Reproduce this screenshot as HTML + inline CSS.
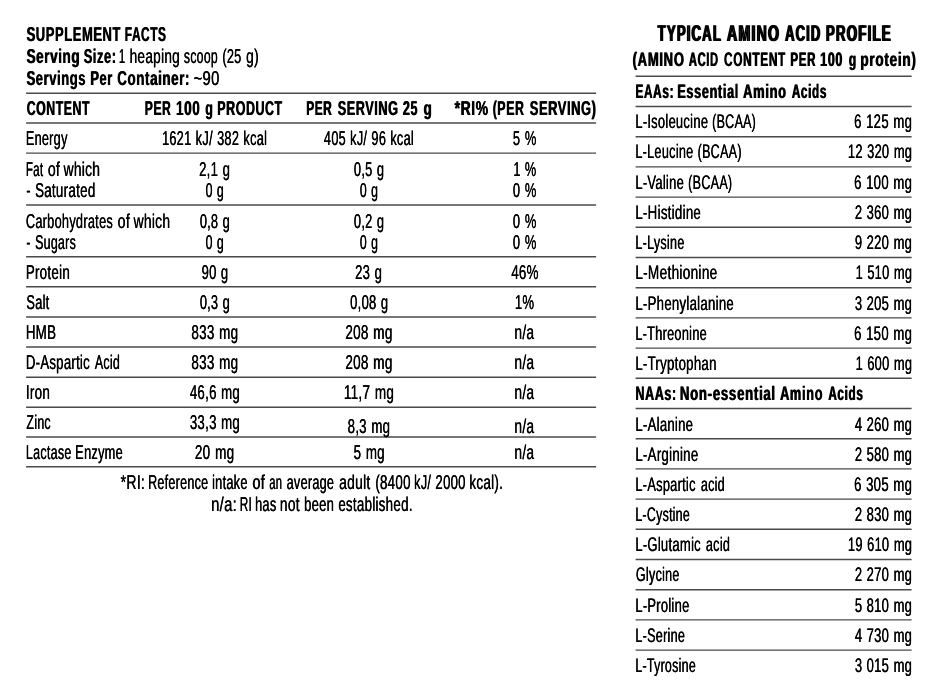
<!DOCTYPE html>
<html lang="en"><head><meta charset="utf-8"><title>Supplement Facts</title>
<style>
html,body{margin:0;padding:0;background:#fff}
body{width:944px;height:680px;position:relative;overflow:hidden;text-rendering:geometricPrecision;font-family:"Liberation Sans",Arial,Helvetica,sans-serif;color:#000}
svg.rules{position:absolute;left:0;top:0}
.t{position:absolute;left:0;white-space:pre;line-height:1;transform-origin:0 0;display:block;font-size:20.1px;letter-spacing:0.4px;text-shadow:0.4px 0 0 #000;-webkit-text-stroke:0.1px #000}
.b{font-weight:bold;letter-spacing:0.9px;text-shadow:0.9px 0 0 #000;-webkit-text-stroke:0.0px #000}
</style></head><body>
<svg class="rules" width="944" height="680" viewBox="0 0 944 680">
<line x1="26.1" y1="93.20" x2="596.1" y2="93.20" stroke="#4a4a4a" stroke-width="1.4"/>
<line x1="26.1" y1="123.00" x2="596.1" y2="123.00" stroke="#4a4a4a" stroke-width="1.4"/>
<line x1="26.1" y1="153.10" x2="596.1" y2="153.10" stroke="#4a4a4a" stroke-width="1.4"/>
<line x1="26.1" y1="205.00" x2="596.1" y2="205.00" stroke="#4a4a4a" stroke-width="1.4"/>
<line x1="26.1" y1="256.80" x2="596.1" y2="256.80" stroke="#4a4a4a" stroke-width="1.4"/>
<line x1="26.1" y1="286.80" x2="596.1" y2="286.80" stroke="#4a4a4a" stroke-width="1.4"/>
<line x1="26.1" y1="317.00" x2="596.1" y2="317.00" stroke="#4a4a4a" stroke-width="1.4"/>
<line x1="26.1" y1="347.00" x2="596.1" y2="347.00" stroke="#4a4a4a" stroke-width="1.4"/>
<line x1="26.1" y1="377.20" x2="596.1" y2="377.20" stroke="#4a4a4a" stroke-width="1.4"/>
<line x1="26.1" y1="407.20" x2="596.1" y2="407.20" stroke="#4a4a4a" stroke-width="1.4"/>
<line x1="26.1" y1="437.00" x2="596.1" y2="437.00" stroke="#4a4a4a" stroke-width="1.4"/>
<line x1="26.1" y1="466.80" x2="596.1" y2="466.80" stroke="#4a4a4a" stroke-width="1.4"/>
<line x1="635.6" y1="76.30" x2="911.6" y2="76.30" stroke="#4a4a4a" stroke-width="1.4"/>
<line x1="635.6" y1="106.50" x2="911.6" y2="106.50" stroke="#4a4a4a" stroke-width="1.4"/>
<line x1="635.6" y1="136.70" x2="911.6" y2="136.70" stroke="#4a4a4a" stroke-width="1.4"/>
<line x1="635.6" y1="166.90" x2="911.6" y2="166.90" stroke="#4a4a4a" stroke-width="1.4"/>
<line x1="635.6" y1="197.10" x2="911.6" y2="197.10" stroke="#4a4a4a" stroke-width="1.4"/>
<line x1="635.6" y1="227.30" x2="911.6" y2="227.30" stroke="#4a4a4a" stroke-width="1.4"/>
<line x1="635.6" y1="257.50" x2="911.6" y2="257.50" stroke="#4a4a4a" stroke-width="1.4"/>
<line x1="635.6" y1="287.70" x2="911.6" y2="287.70" stroke="#4a4a4a" stroke-width="1.4"/>
<line x1="635.6" y1="317.90" x2="911.6" y2="317.90" stroke="#4a4a4a" stroke-width="1.4"/>
<line x1="635.6" y1="348.10" x2="911.6" y2="348.10" stroke="#4a4a4a" stroke-width="1.4"/>
<line x1="635.6" y1="378.30" x2="911.6" y2="378.30" stroke="#4a4a4a" stroke-width="1.4"/>
<line x1="635.6" y1="408.50" x2="911.6" y2="408.50" stroke="#4a4a4a" stroke-width="1.4"/>
<line x1="635.6" y1="438.70" x2="911.6" y2="438.70" stroke="#4a4a4a" stroke-width="1.4"/>
<line x1="635.6" y1="468.90" x2="911.6" y2="468.90" stroke="#4a4a4a" stroke-width="1.4"/>
<line x1="635.6" y1="499.10" x2="911.6" y2="499.10" stroke="#4a4a4a" stroke-width="1.4"/>
<line x1="635.6" y1="529.30" x2="911.6" y2="529.30" stroke="#4a4a4a" stroke-width="1.4"/>
<line x1="635.6" y1="559.50" x2="911.6" y2="559.50" stroke="#4a4a4a" stroke-width="1.4"/>
<line x1="635.6" y1="589.70" x2="911.6" y2="589.70" stroke="#4a4a4a" stroke-width="1.4"/>
<line x1="635.6" y1="619.90" x2="911.6" y2="619.90" stroke="#4a4a4a" stroke-width="1.4"/>
<line x1="635.6" y1="650.10" x2="911.6" y2="650.10" stroke="#4a4a4a" stroke-width="1.4"/>
</svg>
<div class="ln"><span class="t b" style="top:25px;transform:translateX(26.30px) scaleX(0.6454)">SUPPLEMENT</span> <span class="t b" style="top:25px;transform:translateX(124.51px) scaleX(0.5931)">FACTS</span></div>
<div class="ln"><span class="t b" style="top:47px;transform:translateX(26.30px) scaleX(0.6694)">Serving</span> <span class="t b" style="top:47px;transform:translateX(83.40px) scaleX(0.6397)">Size:</span></div>
<div class="ln"><span class="t" style="top:47px;transform:translateX(118.68px) scaleX(0.5600)">1</span> <span class="t" style="top:47px;transform:translateX(129.45px) scaleX(0.6797)">heaping</span> <span class="t" style="top:47px;transform:translateX(183.83px) scaleX(0.6103)">scoop</span> <span class="t" style="top:47px;transform:translateX(222.19px) scaleX(0.6377)">(25</span> <span class="t" style="top:47px;transform:translateX(246.03px) scaleX(0.6860)">g)</span></div>
<div class="ln"><span class="t b" style="top:69px;transform:translateX(26.30px) scaleX(0.6452)">Servings</span> <span class="t b" style="top:69px;transform:translateX(90.06px) scaleX(0.6418)">Per</span> <span class="t b" style="top:69px;transform:translateX(117.00px) scaleX(0.6643)">Container:</span></div>
<div class="ln"><span class="t" style="top:69px;transform:translateX(193.44px) scaleX(0.7356)">~90</span></div>
<div class="ln"><span class="t b" style="top:99px;transform:translateX(26.40px) scaleX(0.6136)">CONTENT</span></div>
<div class="ln"><span class="t b" style="top:99px;transform:translateX(144.50px) scaleX(0.6045)">PER</span> <span class="t b" style="top:99px;transform:translateX(175.73px) scaleX(0.6733)">100</span> <span class="t b" style="top:99px;transform:translateX(205.00px) scaleX(0.6218)">g</span> <span class="t b" style="top:99px;transform:translateX(216.98px) scaleX(0.6197)">PRODUCT</span></div>
<div class="ln"><span class="t b" style="top:99px;transform:translateX(305.91px) scaleX(0.5930)">PER</span> <span class="t b" style="top:99px;transform:translateX(337.40px) scaleX(0.6319)">SERVING</span> <span class="t b" style="top:99px;transform:translateX(402.60px) scaleX(0.6256)">25</span> <span class="t b" style="top:99px;transform:translateX(423.30px) scaleX(0.6555)">g</span></div>
<div class="ln"><span class="t b" style="top:99px;transform:translateX(454.30px) scaleX(0.6907)">*RI%</span> <span class="t b" style="top:99px;transform:translateX(492.38px) scaleX(0.6165)">(PER</span> <span class="t b" style="top:99px;transform:translateX(529.50px) scaleX(0.6420)">SERVING)</span></div>
<div class="ln"><span class="t" style="top:129px;transform:translateX(25.70px) scaleX(0.6327)">Energy</span></div>
<div class="ln"><span class="t" style="top:129px;word-spacing:0.80px;transform:translateX(161.90px) scaleX(0.6351)">1621 kJ/ 382 kcal</span></div>
<div class="ln"><span class="t" style="top:129px;word-spacing:0.80px;transform:translateX(323.83px) scaleX(0.6320)">405 kJ/ 96 kcal</span></div>
<div class="ln"><span class="t" style="top:129px;word-spacing:0.80px;transform:translateX(512.83px) scaleX(0.6429)">5 %</span></div>
<div class="ln"><span class="t" style="top:160px;transform:translateX(25.75px) scaleX(0.5748)">Fat</span> <span class="t" style="top:160px;transform:translateX(47.64px) scaleX(0.7026)">of</span> <span class="t" style="top:160px;transform:translateX(63.42px) scaleX(0.6867)">which</span></div>
<div class="ln"><span class="t" style="top:160px;word-spacing:0.80px;transform:translateX(198.98px) scaleX(0.6539)">2,1 g</span></div>
<div class="ln"><span class="t" style="top:160px;word-spacing:0.80px;transform:translateX(353.83px) scaleX(0.6398)">0,5 g</span></div>
<div class="ln"><span class="t" style="top:160px;word-spacing:0.80px;transform:translateX(513.20px) scaleX(0.6330)">1 %</span></div>
<div class="ln"><span class="t" style="top:181px;transform:translateX(26.33px) scaleX(0.6000)">-</span> <span class="t" style="top:181px;transform:translateX(34.93px) scaleX(0.6659)">Saturated</span></div>
<div class="ln"><span class="t" style="top:181px;word-spacing:0.80px;transform:translateX(205.43px) scaleX(0.6133)">0 g</span></div>
<div class="ln"><span class="t" style="top:181px;word-spacing:0.80px;transform:translateX(359.63px) scaleX(0.6133)">0 g</span></div>
<div class="ln"><span class="t" style="top:181px;word-spacing:0.80px;transform:translateX(512.83px) scaleX(0.6429)">0 %</span></div>
<div class="ln"><span class="t" style="top:212px;transform:translateX(25.70px) scaleX(0.6365)">Carbohydrates</span> <span class="t" style="top:212px;transform:translateX(117.54px) scaleX(0.7026)">of</span> <span class="t" style="top:212px;transform:translateX(133.42px) scaleX(0.6905)">which</span></div>
<div class="ln"><span class="t" style="top:212px;word-spacing:0.80px;transform:translateX(199.63px) scaleX(0.6398)">0,8 g</span></div>
<div class="ln"><span class="t" style="top:212px;word-spacing:0.80px;transform:translateX(353.83px) scaleX(0.6398)">0,2 g</span></div>
<div class="ln"><span class="t" style="top:212px;word-spacing:0.80px;transform:translateX(512.83px) scaleX(0.6429)">0 %</span></div>
<div class="ln"><span class="t" style="top:233px;transform:translateX(26.33px) scaleX(0.6000)">-</span> <span class="t" style="top:233px;transform:translateX(34.93px) scaleX(0.6201)">Sugars</span></div>
<div class="ln"><span class="t" style="top:233px;word-spacing:0.80px;transform:translateX(205.43px) scaleX(0.6133)">0 g</span></div>
<div class="ln"><span class="t" style="top:233px;word-spacing:0.80px;transform:translateX(359.63px) scaleX(0.6133)">0 g</span></div>
<div class="ln"><span class="t" style="top:233px;word-spacing:0.80px;transform:translateX(512.83px) scaleX(0.6429)">0 %</span></div>
<div class="ln"><span class="t" style="top:263px;transform:translateX(25.67px) scaleX(0.6662)">Protein</span></div>
<div class="ln"><span class="t" style="top:263px;word-spacing:0.80px;transform:translateX(201.43px) scaleX(0.6479)">90 g</span></div>
<div class="ln"><span class="t" style="top:263px;word-spacing:0.80px;transform:translateX(354.88px) scaleX(0.6517)">23 g</span></div>
<div class="ln"><span class="t" style="top:263px;transform:translateX(511.13px) scaleX(0.6627)">46%</span></div>
<div class="ln"><span class="t" style="top:293px;transform:translateX(26.33px) scaleX(0.6369)">Salt</span></div>
<div class="ln"><span class="t" style="top:293px;word-spacing:0.80px;transform:translateX(199.63px) scaleX(0.6398)">0,3 g</span></div>
<div class="ln"><span class="t" style="top:293px;word-spacing:0.80px;transform:translateX(350.03px) scaleX(0.6466)">0,08 g</span></div>
<div class="ln"><span class="t" style="top:293px;transform:translateX(514.68px) scaleX(0.6535)">1%</span></div>
<div class="ln"><span class="t" style="top:323px;transform:translateX(25.67px) scaleX(0.6644)">HMB</span></div>
<div class="ln"><span class="t" style="top:323px;word-spacing:0.80px;transform:translateX(191.23px) scaleX(0.6696)">833 mg</span></div>
<div class="ln"><span class="t" style="top:323px;word-spacing:0.80px;transform:translateX(345.16px) scaleX(0.6735)">208 mg</span></div>
<div class="ln"><span class="t" style="top:323px;transform:translateX(514.25px) scaleX(0.6883)">n/a</span></div>
<div class="ln"><span class="t" style="top:353px;transform:translateX(25.68px) scaleX(0.6568)">D-Aspartic</span> <span class="t" style="top:353px;transform:translateX(94.63px) scaleX(0.6210)">Acid</span></div>
<div class="ln"><span class="t" style="top:353px;word-spacing:0.80px;transform:translateX(191.23px) scaleX(0.6696)">833 mg</span></div>
<div class="ln"><span class="t" style="top:353px;word-spacing:0.80px;transform:translateX(345.16px) scaleX(0.6735)">208 mg</span></div>
<div class="ln"><span class="t" style="top:353px;transform:translateX(514.25px) scaleX(0.6883)">n/a</span></div>
<div class="ln"><span class="t" style="top:383px;transform:translateX(25.66px) scaleX(0.6706)">Iron</span></div>
<div class="ln"><span class="t" style="top:383px;word-spacing:0.80px;transform:translateX(189.73px) scaleX(0.6588)">46,6 mg</span></div>
<div class="ln"><span class="t" style="top:383px;word-spacing:0.80px;transform:translateX(343.76px) scaleX(0.6732)">11,7 mg</span></div>
<div class="ln"><span class="t" style="top:383px;transform:translateX(514.25px) scaleX(0.6883)">n/a</span></div>
<div class="ln"><span class="t" style="top:413px;transform:translateX(26.33px) scaleX(0.6185)">Zinc</span></div>
<div class="ln"><span class="t" style="top:413px;word-spacing:0.80px;transform:translateX(189.73px) scaleX(0.6588)">33,3 mg</span></div>
<div class="ln"><span class="t" style="top:417px;word-spacing:0.80px;transform:translateX(347.53px) scaleX(0.6592)">8,3 mg</span></div>
<div class="ln"><span class="t" style="top:417px;transform:translateX(514.25px) scaleX(0.6883)">n/a</span></div>
<div class="ln"><span class="t" style="top:443px;transform:translateX(25.71px) scaleX(0.6241)">Lactase</span> <span class="t" style="top:443px;transform:translateX(75.09px) scaleX(0.6373)">Enzyme</span></div>
<div class="ln"><span class="t" style="top:443px;word-spacing:0.80px;transform:translateX(194.76px) scaleX(0.6734)">20 mg</span></div>
<div class="ln"><span class="t" style="top:443px;word-spacing:0.80px;transform:translateX(353.43px) scaleX(0.6652)">5 mg</span></div>
<div class="ln"><span class="t" style="top:443px;transform:translateX(514.25px) scaleX(0.6883)">n/a</span></div>
<div class="ln"><span class="t" style="top:473px;transform:translateX(120.53px) scaleX(0.6962)">*RI:</span> <span class="t" style="top:473px;transform:translateX(148.00px) scaleX(0.6269)">Reference</span> <span class="t" style="top:473px;transform:translateX(211.89px) scaleX(0.6388)">intake</span> <span class="t" style="top:473px;transform:translateX(252.34px) scaleX(0.7137)">of</span> <span class="t" style="top:473px;transform:translateX(269.15px) scaleX(0.5600)">an</span> <span class="t" style="top:473px;transform:translateX(286.53px) scaleX(0.6305)">average</span> <span class="t" style="top:473px;transform:translateX(339.03px) scaleX(0.6900)">adult</span> <span class="t" style="top:473px;transform:translateX(375.17px) scaleX(0.6633)">(8400</span> <span class="t" style="top:473px;transform:translateX(414.10px) scaleX(0.6289)">kJ/</span> <span class="t" style="top:473px;transform:translateX(435.28px) scaleX(0.6567)">2000</span> <span class="t" style="top:473px;transform:translateX(469.16px) scaleX(0.6719)">kcal).</span></div>
<div class="ln"><span class="t" style="top:495px;transform:translateX(210.97px) scaleX(0.7400)">n/a:</span> <span class="t" style="top:495px;transform:translateX(239.64px) scaleX(0.5866)">RI</span> <span class="t" style="top:495px;transform:translateX(254.89px) scaleX(0.6371)">has</span> <span class="t" style="top:495px;transform:translateX(279.85px) scaleX(0.6806)">not</span> <span class="t" style="top:495px;transform:translateX(303.98px) scaleX(0.6512)">been</span> <span class="t" style="top:495px;transform:translateX(338.13px) scaleX(0.6648)">established.</span></div>
<div class="ln"><span class="t b" style="top:22px;font-size:22.8px;text-rendering:geometricPrecision;letter-spacing:2.0px;text-shadow:2.3px 0 0 #000;transform:translateX(657.00px) scaleX(0.5773)">TYPICAL</span> <span class="t b" style="top:22px;font-size:22.8px;text-rendering:geometricPrecision;letter-spacing:2.0px;text-shadow:2.3px 0 0 #000;transform:translateX(726.30px) scaleX(0.6195)">AMINO</span> <span class="t b" style="top:22px;font-size:22.8px;text-rendering:geometricPrecision;letter-spacing:2.0px;text-shadow:2.3px 0 0 #000;transform:translateX(784.40px) scaleX(0.5711)">ACID</span> <span class="t b" style="top:22px;font-size:22.8px;text-rendering:geometricPrecision;letter-spacing:2.0px;text-shadow:2.3px 0 0 #000;transform:translateX(825.22px) scaleX(0.5845)">PROFILE</span></div>
<div class="ln"><span class="t b" style="top:51px;font-size:19.6px;letter-spacing:1.1px;text-shadow:1.1px 0 0 #000;transform:translateX(632.20px) scaleX(0.6650)">(AMINO</span> <span class="t b" style="top:51px;font-size:19.6px;letter-spacing:1.1px;text-shadow:1.1px 0 0 #000;transform:translateX(688.60px) scaleX(0.5696)">ACID</span> <span class="t b" style="top:51px;font-size:19.6px;letter-spacing:1.1px;text-shadow:1.1px 0 0 #000;transform:translateX(723.70px) scaleX(0.6043)">CONTENT</span> <span class="t b" style="top:51px;font-size:19.6px;letter-spacing:1.1px;text-shadow:1.1px 0 0 #000;transform:translateX(790.11px) scaleX(0.5867)">PER</span> <span class="t b" style="top:51px;font-size:19.6px;letter-spacing:1.1px;text-shadow:1.1px 0 0 #000;transform:translateX(819.86px) scaleX(0.6354)">100</span> <span class="t b" style="top:51px;font-size:19.6px;letter-spacing:1.1px;text-shadow:1.1px 0 0 #000;transform:translateX(848.60px) scaleX(0.6116)">g</span> <span class="t b" style="top:51px;font-size:19.6px;letter-spacing:1.1px;text-shadow:1.1px 0 0 #000;transform:translateX(860.01px) scaleX(0.6871)">protein)</span></div>
<div class="ln"><span class="t b" style="top:83px;font-size:19.6px;letter-spacing:1.1px;text-shadow:1.1px 0 0 #000;transform:translateX(635.20px) scaleX(0.6007)">EAAs:</span> <span class="t b" style="top:83px;font-size:19.6px;letter-spacing:1.1px;text-shadow:1.1px 0 0 #000;transform:translateX(676.96px) scaleX(0.6424)">Essential</span> <span class="t b" style="top:83px;font-size:19.6px;letter-spacing:1.1px;text-shadow:1.1px 0 0 #000;transform:translateX(742.80px) scaleX(0.6558)">Amino</span> <span class="t b" style="top:83px;font-size:19.6px;letter-spacing:1.1px;text-shadow:1.1px 0 0 #000;transform:translateX(791.50px) scaleX(0.5970)">Acids</span></div>
<div class="ln"><span class="t" style="top:113px;font-size:19.6px;transform:translateX(635.17px) scaleX(0.6603)">L-Isoleucine</span> <span class="t" style="top:113px;font-size:19.6px;transform:translateX(712.09px) scaleX(0.6382)">(BCAA)</span></div>
<div class="ln"><span class="t" style="top:113px;font-size:19.6px;word-spacing:0.78px;transform:translateX(853.96px) scaleX(0.6721)">6 125 mg</span></div>
<div class="ln"><span class="t" style="top:143px;font-size:19.6px;transform:translateX(635.18px) scaleX(0.6493)">L-Leucine</span> <span class="t" style="top:143px;font-size:19.6px;transform:translateX(697.49px) scaleX(0.6411)">(BCAA)</span></div>
<div class="ln"><span class="t" style="top:143px;font-size:19.6px;word-spacing:0.78px;transform:translateX(847.78px) scaleX(0.6575)">12 320 mg</span></div>
<div class="ln"><span class="t" style="top:174px;font-size:19.6px;transform:translateX(635.17px) scaleX(0.6618)">L-Valine</span> <span class="t" style="top:174px;font-size:19.6px;transform:translateX(688.09px) scaleX(0.6411)">(BCAA)</span></div>
<div class="ln"><span class="t" style="top:174px;font-size:19.6px;word-spacing:0.78px;transform:translateX(853.96px) scaleX(0.6721)">6 100 mg</span></div>
<div class="ln"><span class="t" style="top:204px;font-size:19.6px;transform:translateX(635.15px) scaleX(0.6790)">L-Histidine</span></div>
<div class="ln"><span class="t" style="top:204px;font-size:19.6px;word-spacing:0.78px;transform:translateX(854.63px) scaleX(0.6642)">2 360 mg</span></div>
<div class="ln"><span class="t" style="top:234px;font-size:19.6px;transform:translateX(635.19px) scaleX(0.6430)">L-Lysine</span></div>
<div class="ln"><span class="t" style="top:234px;font-size:19.6px;word-spacing:0.78px;transform:translateX(854.63px) scaleX(0.6642)">9 220 mg</span></div>
<div class="ln"><span class="t" style="top:264px;font-size:19.6px;transform:translateX(635.14px) scaleX(0.6966)">L-Methionine</span></div>
<div class="ln"><span class="t" style="top:264px;font-size:19.6px;word-spacing:0.78px;transform:translateX(855.38px) scaleX(0.6555)">1 510 mg</span></div>
<div class="ln"><span class="t" style="top:295px;font-size:19.6px;transform:translateX(635.16px) scaleX(0.6739)">L-Phenylalanine</span></div>
<div class="ln"><span class="t" style="top:295px;font-size:19.6px;word-spacing:0.78px;transform:translateX(854.63px) scaleX(0.6642)">3 205 mg</span></div>
<div class="ln"><span class="t" style="top:325px;font-size:19.6px;transform:translateX(635.18px) scaleX(0.6517)">L-Threonine</span></div>
<div class="ln"><span class="t" style="top:325px;font-size:19.6px;word-spacing:0.78px;transform:translateX(853.96px) scaleX(0.6721)">6 150 mg</span></div>
<div class="ln"><span class="t" style="top:355px;font-size:19.6px;transform:translateX(635.16px) scaleX(0.6750)">L-Tryptophan</span></div>
<div class="ln"><span class="t" style="top:355px;font-size:19.6px;word-spacing:0.78px;transform:translateX(855.38px) scaleX(0.6555)">1 600 mg</span></div>
<div class="ln"><span class="t b" style="top:385px;font-size:19.6px;letter-spacing:1.1px;text-shadow:1.1px 0 0 #000;transform:translateX(635.17px) scaleX(0.6317)">NAAs:</span> <span class="t b" style="top:385px;font-size:19.6px;letter-spacing:1.1px;text-shadow:1.1px 0 0 #000;transform:translateX(679.53px) scaleX(0.6722)">Non-essential</span> <span class="t b" style="top:385px;font-size:19.6px;letter-spacing:1.1px;text-shadow:1.1px 0 0 #000;transform:translateX(779.70px) scaleX(0.6498)">Amino</span> <span class="t b" style="top:385px;font-size:19.6px;letter-spacing:1.1px;text-shadow:1.1px 0 0 #000;transform:translateX(828.00px) scaleX(0.5970)">Acids</span></div>
<div class="ln"><span class="t" style="top:416px;font-size:19.6px;transform:translateX(635.16px) scaleX(0.6718)">L-Alanine</span></div>
<div class="ln"><span class="t" style="top:416px;font-size:19.6px;word-spacing:0.78px;transform:translateX(854.63px) scaleX(0.6642)">4 260 mg</span></div>
<div class="ln"><span class="t" style="top:446px;font-size:19.6px;transform:translateX(635.16px) scaleX(0.6777)">L-Arginine</span></div>
<div class="ln"><span class="t" style="top:446px;font-size:19.6px;word-spacing:0.78px;transform:translateX(854.63px) scaleX(0.6642)">2 580 mg</span></div>
<div class="ln"><span class="t" style="top:476px;font-size:19.6px;transform:translateX(635.18px) scaleX(0.6557)">L-Aspartic</span> <span class="t" style="top:476px;font-size:19.6px;transform:translateX(700.63px) scaleX(0.6449)">acid</span></div>
<div class="ln"><span class="t" style="top:476px;font-size:19.6px;word-spacing:0.78px;transform:translateX(853.96px) scaleX(0.6721)">6 305 mg</span></div>
<div class="ln"><span class="t" style="top:506px;font-size:19.6px;transform:translateX(635.20px) scaleX(0.6335)">L-Cystine</span></div>
<div class="ln"><span class="t" style="top:506px;font-size:19.6px;word-spacing:0.78px;transform:translateX(854.63px) scaleX(0.6642)">2 830 mg</span></div>
<div class="ln"><span class="t" style="top:536px;font-size:19.6px;transform:translateX(635.17px) scaleX(0.6651)">L-Glutamic</span> <span class="t" style="top:536px;font-size:19.6px;transform:translateX(705.83px) scaleX(0.6449)">acid</span></div>
<div class="ln"><span class="t" style="top:536px;font-size:19.6px;word-spacing:0.78px;transform:translateX(847.78px) scaleX(0.6575)">19 610 mg</span></div>
<div class="ln"><span class="t" style="top:566px;font-size:19.6px;transform:translateX(635.83px) scaleX(0.6395)">Glycine</span></div>
<div class="ln"><span class="t" style="top:566px;font-size:19.6px;word-spacing:0.78px;transform:translateX(854.63px) scaleX(0.6642)">2 270 mg</span></div>
<div class="ln"><span class="t" style="top:597px;font-size:19.6px;transform:translateX(635.17px) scaleX(0.6612)">L-Proline</span></div>
<div class="ln"><span class="t" style="top:597px;font-size:19.6px;word-spacing:0.78px;transform:translateX(854.63px) scaleX(0.6642)">5 810 mg</span></div>
<div class="ln"><span class="t" style="top:627px;font-size:19.6px;transform:translateX(635.19px) scaleX(0.6448)">L-Serine</span></div>
<div class="ln"><span class="t" style="top:627px;font-size:19.6px;word-spacing:0.78px;transform:translateX(854.63px) scaleX(0.6642)">4 730 mg</span></div>
<div class="ln"><span class="t" style="top:657px;font-size:19.6px;transform:translateX(635.20px) scaleX(0.6348)">L-Tyrosine</span></div>
<div class="ln"><span class="t" style="top:657px;font-size:19.6px;word-spacing:0.78px;transform:translateX(854.63px) scaleX(0.6642)">3 015 mg</span></div>
</body></html>
